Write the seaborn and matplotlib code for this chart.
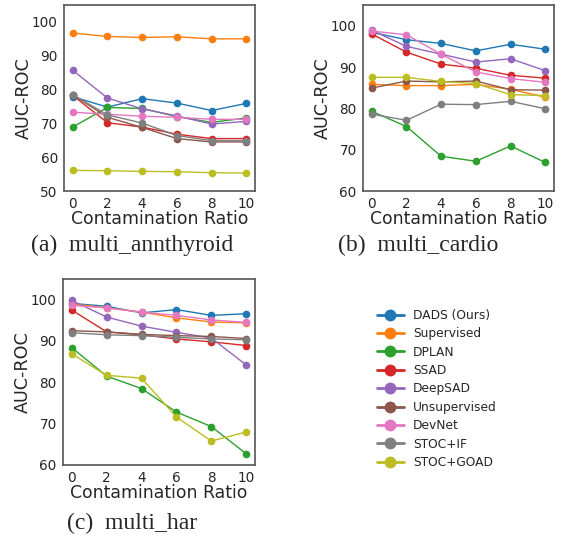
"""Three AUC-ROC vs contamination ratio panels with a shared legend."""

import matplotlib

matplotlib.use("Agg")
import matplotlib.pyplot as plt
import pandas as pd
import seaborn as sns
from matplotlib.lines import Line2D

ratios = [0, 2, 4, 6, 8, 10]
methods = ["DADS (Ours)", "Supervised", "DPLAN", "SSAD", "DeepSAD",
           "Unsupervised", "DevNet", "STOC+IF", "STOC+GOAD"]

# (a) multi_annthyroid
annthyroid = {
    "DADS (Ours)": [77.9, 74.8, 77.3, 76.0, 73.8, 75.9],
    "Supervised": [96.7, 95.7, 95.4, 95.6, 95.0, 95.0],
    "DPLAN": [68.9, 74.7, 74.4, 72.0, 70.3, 71.6],
    "SSAD": [78.3, 70.2, 68.9, 66.8, 65.5, 65.5],
    "DeepSAD": [85.7, 77.5, 74.3, 72.2, 69.8, 70.6],
    "Unsupervised": [78.5, 71.8, 68.8, 65.5, 64.5, 64.5],
    "DevNet": [73.3, 72.7, 72.1, 71.8, 71.2, 71.2],
    "STOC+IF": [78.5, 72.5, 70.1, 66.4, 64.9, 64.9],
    "STOC+GOAD": [56.1, 56.0, 55.8, 55.7, 55.4, 55.3],
}

# (b) multi_cardio
cardio = {
    "DADS (Ours)": [98.4, 96.6, 95.7, 93.9, 95.5, 94.3],
    "Supervised": [85.8, 85.5, 85.5, 85.8, 84.6, 82.7],
    "DPLAN": [79.3, 75.6, 68.4, 67.2, 70.9, 66.9],
    "SSAD": [98.0, 93.6, 90.7, 89.7, 88.0, 87.3],
    "DeepSAD": [98.9, 95.0, 93.1, 91.2, 92.0, 89.1],
    "Unsupervised": [84.9, 86.6, 86.4, 86.6, 84.5, 84.4],
    "DevNet": [98.7, 97.8, 93.1, 88.8, 87.2, 86.3],
    "STOC+IF": [78.6, 77.1, 81.0, 80.9, 81.7, 79.9],
    "STOC+GOAD": [87.5, 87.5, 86.5, 86.0, 83.3, 83.1],
}

# (c) multi_har
har = {
    "DADS (Ours)": [99.1, 98.4, 96.8, 97.6, 96.2, 96.6],
    "Supervised": [99.0, 98.0, 97.0, 95.6, 94.6, 94.4],
    "DPLAN": [88.4, 81.5, 78.5, 72.8, 69.3, 62.7],
    "SSAD": [97.5, 92.2, 91.5, 90.5, 89.8, 88.9],
    "DeepSAD": [99.8, 95.8, 93.6, 92.1, 90.7, 84.2],
    "Unsupervised": [92.5, 92.2, 91.6, 91.3, 91.1, 90.6],
    "DevNet": [98.6, 98.0, 97.0, 96.2, 95.1, 94.5],
    "STOC+IF": [92.0, 91.5, 91.3, 90.9, 90.5, 90.3],
    "STOC+GOAD": [86.9, 81.7, 81.0, 71.6, 65.8, 68.0],
}

captions = ["(a)  multi_annthyroid", "(b)  multi_cardio", "(c)  multi_har"]
ylims = [(50, 105), (60, 105), (60, 105)]
yticks = [[50, 60, 70, 80, 90, 100], [60, 70, 80, 90, 100], [60, 70, 80, 90, 100]]


def to_long(table: dict) -> pd.DataFrame:
    rows = []
    for method in methods:
        for ratio, value in zip(ratios, table[method]):
            rows.append({"ratio": ratio, "auc": value, "method": method})
    return pd.DataFrame(rows)


def draw_panel(ax, table, ylim, ticks):
    sns.lineplot(
        data=to_long(table), x="ratio", y="auc", hue="method", hue_order=methods,
        palette="tab10", marker="o", markersize=5.5, markeredgewidth=0,
        linewidth=1.0, legend=False, ax=ax,
    )
    ax.set_xlim(-0.5, 10.5)
    ax.set_ylim(*ylim)
    ax.set_xticks(ratios)
    ax.set_yticks(ticks)
    ax.set_xlabel("Contamination Ratio", fontsize=12.4, labelpad=-1)
    ax.set_ylabel("AUC-ROC", fontsize=12.6, labelpad=-1)
    ax.tick_params(labelsize=9.8, length=3, width=0.8, pad=1.5)
    for spine in ax.spines.values():
        spine.set_color("#555555")
        spine.set_linewidth(1.2)


def main() -> None:
    sns.set_style("white")
    W, H = 563, 535
    fig = plt.figure(figsize=(W / 100, H / 100), dpi=100)

    boxes = [(64, 5, 255, 191), (363, 5, 554, 191), (63, 279, 255, 465)]
    cap_pos = [(132, 245), (418, 245), (132, 523)]
    tables = [annthyroid, cardio, har]

    for box, table, ylim, ticks, cap, (cx, cy) in zip(boxes, tables, ylims, yticks, captions, cap_pos):
        x0, y0, x1, y1 = box
        ax = fig.add_axes([x0 / W, 1 - y1 / H, (x1 - x0) / W, (y1 - y0) / H])
        draw_panel(ax, table, ylim, ticks)
        fig.text(cx / W, 1 - cy / H, cap, ha="center", va="center",
                 fontsize=17, family="Liberation Serif")

    colors = sns.color_palette("tab10", len(methods))
    handles = [Line2D([], [], color=c, marker="o", markersize=7.5, linewidth=2) for c in colors]
    fig.legend(handles, methods, loc="upper left", bbox_to_anchor=(372 / W, 1 - 304 / H),
               frameon=False, fontsize=8.8, handlelength=2.2, handletextpad=0.75,
               labelspacing=0.44, borderaxespad=0)

    fig.savefig("out.png", dpi=100)


if __name__ == "__main__":
    main()
